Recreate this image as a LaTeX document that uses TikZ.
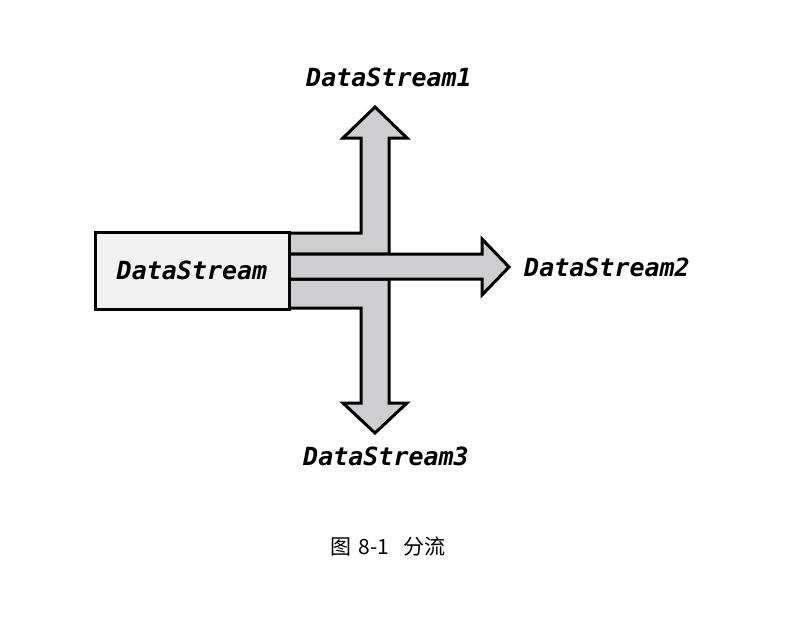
\documentclass[tikz,border=0pt]{standalone}
\usepackage{fontspec}
\usepackage{xcolor}
\newfontfamily\streamfont{DejaVu Sans Mono}
\newfontfamily\cjkfont{Noto Sans CJK SC}
\usetikzlibrary{calc, positioning}
\definecolor{streamgrey}{RGB}{206, 205, 207}
\definecolor{boxgrey}{RGB}{242, 242, 242}

\begin{document}
\begin{tikzpicture}[x=1pt, y=-1pt]
        \useasboundingbox (0, 0) rectangle (808, 625);

        \tikzstyle{flow} = [draw, line width=3pt, fill=streamgrey, line join=miter];
        \tikzstyle{src} = [draw, line width=3pt, fill=boxgrey, minimum width=194pt,
            minimum height=77pt, inner sep=0pt];
        \tikzstyle{lbl} = [font=\streamfont\bfseries\itshape\fontsize{25}{30}\selectfont, inner sep=0pt];

        % junction of the three streams
        \coordinate (J) at (375, 266.5);

        % upper stream
        \draw [flow] (289, 233) -- (361, 233) -- (361, 138) -- (343, 138) --
            (375, 107) coordinate (T1) -- (407, 138) -- (389, 138) -- (389, 254) --
            (289, 254) -- cycle;

        % lower stream
        \draw [flow] (289, 279) -- (389, 279) -- (389, 403) -- (407, 403) --
            (375, 433) coordinate (T3) -- (343, 403) -- (361, 403) -- (361, 308) --
            (289, 308) -- cycle;

        % middle stream
        \draw [flow] (289, 254) -- (482, 254) -- (482, 239) --
            (509, 267) coordinate (T2) -- (482, 295) -- (482, 279) --
            (289, 279) -- cycle;

        \node [src] (src) at (192, 270.5) {};
        \node [lbl] (srclbl) at (src.center) {DataStream};

        \node [lbl] (ds1) at (389, 77) {DataStream1};
        \node [lbl, anchor=west] (ds2) at (524, 267) {DataStream2};
        \node [lbl] (ds3) at (386, 456) {DataStream3};

        \node [font=\cjkfont\fontsize{21}{25}\selectfont, inner sep=0pt] (cap) at (388, 547)
            {图\hspace{7pt}8-1\hspace{14pt}分流};
    \end{tikzpicture}
\end{document}
